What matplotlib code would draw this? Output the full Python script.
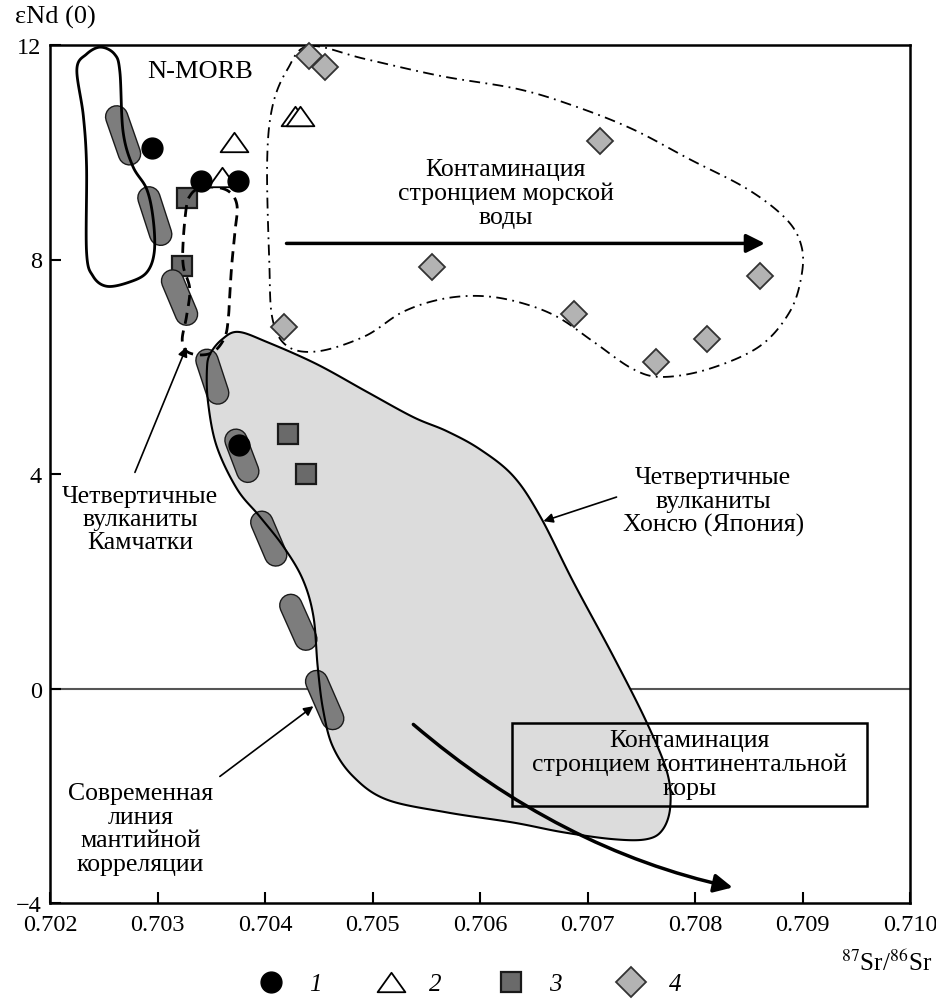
import numpy as np
import matplotlib.pyplot as plt
import matplotlib.patheffects as pe
from matplotlib.lines import Line2D
from matplotlib.patches import Polygon, Rectangle, FancyArrowPatch
from matplotlib.path import Path

plt.rcParams['font.family'] = ['Liberation Serif', 'DejaVu Serif']
plt.rcParams['mathtext.fontset'] = 'stix'

# samples, groups 1-4 (87Sr/86Sr, eNd)
circ_x = [0.70295, 0.70340, 0.70375, 0.70376]
circ_y = [10.08, 9.46, 9.46, 4.54]
tri_x = [0.70360, 0.70371, 0.70428, 0.70433]
tri_y = [9.54, 10.19, 10.68, 10.68]
sq_x = [0.70327, 0.70323, 0.70421, 0.70438]
sq_y = [9.15, 7.88, 4.74, 4.00]
dia_x = [0.70441, 0.70456, 0.70712, 0.70555, 0.70418, 0.70687, 0.70860, 0.70811, 0.70764]
dia_y = [11.79, 11.59, 10.21, 7.86, 6.74, 6.98, 7.69, 6.51, 6.09]

# mantle correlation line segments (start / end of each capsule)
mcl_x0 = [0.70262, 0.70292, 0.70314, 0.70346, 0.70373, 0.70397, 0.70424, 0.70448]
mcl_y0 = [10.66, 9.15, 7.60, 6.12, 4.63, 3.10, 1.55, 0.13]
mcl_x1 = [0.70274, 0.70303, 0.70327, 0.70356, 0.70384, 0.70410, 0.70438, 0.70463]
mcl_y1 = [9.97, 8.47, 6.98, 5.51, 4.05, 2.49, 0.92, -0.56]

# field outlines
nmorb_x = [0.70225, 0.70234, 0.70247, 0.70260, 0.70265, 0.70268, 0.70277, 0.70290, 0.70296,
           0.70297, 0.70290, 0.70274, 0.70253, 0.70240, 0.70234, 0.70234, 0.70231]
nmorb_y = [11.55, 11.83, 11.96, 11.83, 11.50, 10.38, 9.74, 9.31, 8.75,
           8.14, 7.76, 7.58, 7.50, 7.69, 8.14, 9.74, 10.68]

kam_x = [0.70327, 0.70324, 0.70324, 0.70330, 0.70327, 0.70323, 0.70327, 0.70340, 0.70353, 0.70363,
         0.70366, 0.70367, 0.70369, 0.70372, 0.70374, 0.70367, 0.70353, 0.70337, 0.70330]
kam_y = [9.00, 8.38, 7.88, 7.45, 6.94, 6.51, 6.29, 6.22, 6.29, 6.57,
         6.94, 7.26, 7.88, 8.51, 9.00, 9.26, 9.35, 9.31, 9.18]

hon_x = [0.70349, 0.70360, 0.70375, 0.70402, 0.70448, 0.70495, 0.70538, 0.70569, 0.70600, 0.70631,
         0.70656, 0.70687, 0.70724, 0.70755, 0.70774, 0.70777, 0.70770, 0.70755, 0.70724, 0.70677,
         0.70631, 0.70569, 0.70513, 0.70482, 0.70463, 0.70454, 0.70449, 0.70445, 0.70435, 0.70417,
         0.70395, 0.70374, 0.70355, 0.70347, 0.70346]
hon_y = [6.24, 6.51, 6.65, 6.46, 6.05, 5.53, 5.06, 4.80, 4.46, 3.96,
         3.21, 1.98, 0.60, -0.63, -1.56, -2.20, -2.63, -2.81, -2.81, -2.68,
         -2.50, -2.31, -2.07, -1.64, -1.08, -0.39, 0.41, 1.35, 2.04, 2.65,
         3.21, 3.72, 4.52, 5.34, 5.96]

sea_x = [0.70441, 0.70493, 0.70564, 0.70635, 0.70688, 0.70742, 0.70795, 0.70849, 0.70885, 0.70899,
         0.70899, 0.70888, 0.70860, 0.70813, 0.70770, 0.70742, 0.70706, 0.70671, 0.70635, 0.70600,
         0.70564, 0.70528, 0.70493, 0.70450, 0.70421, 0.70407, 0.70404, 0.70402, 0.70407, 0.70421]
sea_y = [11.98, 11.74, 11.42, 11.18, 10.86, 10.43, 9.87, 9.31, 8.75, 8.25,
         7.69, 7.02, 6.38, 5.96, 5.81, 5.96, 6.46, 6.94, 7.21, 7.32,
         7.26, 7.02, 6.57, 6.29, 6.38, 6.89, 7.95, 9.82, 10.86, 11.55]

# continental crust trend (start, control, end)
cc_x = [0.70538, 0.70674, 0.70835]
cc_y = [-0.67, -3.00, -3.71]

x_ticks = [0.702, 0.703, 0.704, 0.705, 0.706, 0.707, 0.708, 0.709, 0.710]
y_ticks = [-4, 0, 4, 8, 12]


def smooth_closed(xs, ys, n=16):
    # closed Catmull-Rom curve through the outline points
    p = np.column_stack([xs, ys])
    m = len(p)
    t = np.linspace(0, 1, n, endpoint=False)[:, None]
    out = []
    for i in range(m):
        p0, p1, p2, p3 = p[i - 1], p[i], p[(i + 1) % m], p[(i + 2) % m]
        out.append(0.5 * (2 * p1 + (-p0 + p2) * t
                          + (2 * p0 - 5 * p1 + 4 * p2 - p3) * t ** 2
                          + (-p0 + 3 * p1 - 3 * p2 + p3) * t ** 3))
    return np.vstack(out)


fig = plt.figure(figsize=(9.37, 10.03), dpi=100)
ax = fig.add_axes([50 / 937, 1 - 904 / 1003, 860 / 937, 858 / 1003])
ax.set_xlim(0.702, 0.710)
ax.set_ylim(-4, 12)

ax.axhline(0, color='#555555', lw=1.5, zorder=0.5)

hon = smooth_closed(hon_x, hon_y)
ax.add_patch(Polygon(hon, closed=True, facecolor='#dcdcdc', edgecolor='none', zorder=1))

ax.plot(sq_x, sq_y, 's', ms=15, mfc='#6a6a6a', mec='#1a1a1a', mew=1.6, zorder=1.5)

for x0, y0, x1, y1 in zip(mcl_x0, mcl_y0, mcl_x1, mcl_y1):
    ax.plot([x0, x1], [y0, y1], color='#7d7d7d', lw=15, solid_capstyle='round', zorder=2,
            path_effects=[pe.Stroke(linewidth=17, foreground='#1a1a1a'), pe.Normal()])

ax.add_patch(Polygon(hon, closed=True, fill=False, edgecolor='k', lw=1.5, zorder=3))
ax.add_patch(Polygon(smooth_closed(nmorb_x, nmorb_y), closed=True, fill=False,
                     edgecolor='k', lw=2, zorder=3))
ax.add_patch(Polygon(smooth_closed(kam_x, kam_y), closed=True, fill=False,
                     edgecolor='k', lw=2, ls=(0, (4, 2.5)), zorder=3))
ax.add_patch(Polygon(smooth_closed(sea_x, sea_y), closed=True, fill=False,
                     edgecolor='k', lw=1.3, ls=(0, (6, 3, 1, 3)), zorder=3))

tri = Path([(-1, -0.7), (1, -0.7), (0, 0.7), (-1, -0.7)],
           [Path.MOVETO, Path.LINETO, Path.LINETO, Path.CLOSEPOLY])
ax.plot(dia_x, dia_y, 'D', ms=13, mfc='#b3b3b3', mec='#333333', mew=1.3, zorder=4, clip_on=False)
ax.plot(tri_x, tri_y, ls='none', marker=tri, ms=20, mfc='white', mec='k', mew=1.3, zorder=4)
ax.plot(circ_x, circ_y, 'o', ms=15, color='k', zorder=5)

# arrows
ax.annotate('', xy=(0.70865, 8.3), xytext=(0.70420, 8.3),
            arrowprops=dict(arrowstyle='-|>', lw=2.5, mutation_scale=28, color='k',
                            shrinkA=0, shrinkB=0), zorder=6)
cc_path = Path(list(zip(cc_x, cc_y)), [Path.MOVETO, Path.CURVE3, Path.CURVE3])
ax.add_patch(FancyArrowPatch(path=cc_path, arrowstyle='-|>', mutation_scale=28, lw=2.5,
                             color='k', zorder=6))

thin = dict(arrowstyle='-|>', lw=1.2, color='k', mutation_scale=14, shrinkA=0, shrinkB=0)
ax.annotate('', xy=(0.70659, 3.12), xytext=(0.70727, 3.57), arrowprops=thin, zorder=6)
ax.annotate('', xy=(0.70327, 6.37), xytext=(0.70279, 4.03), arrowprops=thin, zorder=6)
ax.annotate('', xy=(0.70445, -0.33), xytext=(0.70358, -1.64), arrowprops=thin, zorder=6)

# labels
fs = 18.5
ls = 1.08
ax.text(0.70340, 11.51, 'N-MORB', fontsize=19, ha='center', va='center')
ax.text(0.70624, 9.24, 'Контаминация\nстронцием морской\nводы', fontsize=fs,
        ha='center', va='center', linespacing=ls, multialignment='center')
ax.text(0.70817, 3.49, 'Четвертичные\nвулканиты\nХонсю (Япония)', fontsize=fs,
        ha='center', va='center', linespacing=ls, multialignment='center')
ax.text(0.70284, 3.16, 'Четвертичные\nвулканиты\nКамчатки', fontsize=fs,
        ha='center', va='center', linespacing=ls, multialignment='center')
ax.text(0.70284, -2.61, 'Современная\nлиния\nмантийной\nкорреляции', fontsize=fs,
        ha='center', va='center', linespacing=ls, multialignment='center')
ax.add_patch(Rectangle((0.70630, -2.20), 0.00330, 1.55, fill=False, lw=1.8,
                       edgecolor='k', zorder=6))
ax.text(0.70795, -1.41, 'Контаминация\nстронцием континентальной\nкоры', fontsize=fs,
        ha='center', va='center', linespacing=ls, multialignment='center', zorder=7)

ax.set_xticks(x_ticks)
ax.set_xticklabels([f'{v:.3f}' for v in x_ticks])
ax.set_yticks(y_ticks)
ax.set_yticklabels([str(v).replace('-', '\u2212') for v in y_ticks])
ax.tick_params(direction='in', length=8, width=1.5, labelsize=17.5, pad=8)
ax.tick_params(axis='y', pad=6)
for s in ax.spines.values():
    s.set_linewidth(1.8)

fig.text(15 / 937, 1 - 17 / 1003, 'εNd (0)', fontsize=19, ha='left', va='center')
fig.text(932 / 937, 1 - 963 / 1003, r'$^{87}$Sr/$^{86}$Sr', fontsize=18, ha='right', va='center')

handles = [
    Line2D([], [], ls='none', marker='o', ms=15, color='k'),
    Line2D([], [], ls='none', marker=tri, ms=20, mfc='white', mec='k', mew=1.3),
    Line2D([], [], ls='none', marker='s', ms=15, mfc='#6a6a6a', mec='#1a1a1a', mew=1.6),
    Line2D([], [], ls='none', marker='D', ms=15, mfc='#b3b3b3', mec='#333333', mew=1.3),
]
fig.legend(handles, ['1', '2', '3', '4'], loc='center', bbox_to_anchor=(0.495, 1 - 985 / 1003),
           ncol=4, frameon=False, prop={'style': 'italic', 'size': 18},
           handletextpad=0.5, columnspacing=1.8)

fig.savefig('out.png', dpi=100)
